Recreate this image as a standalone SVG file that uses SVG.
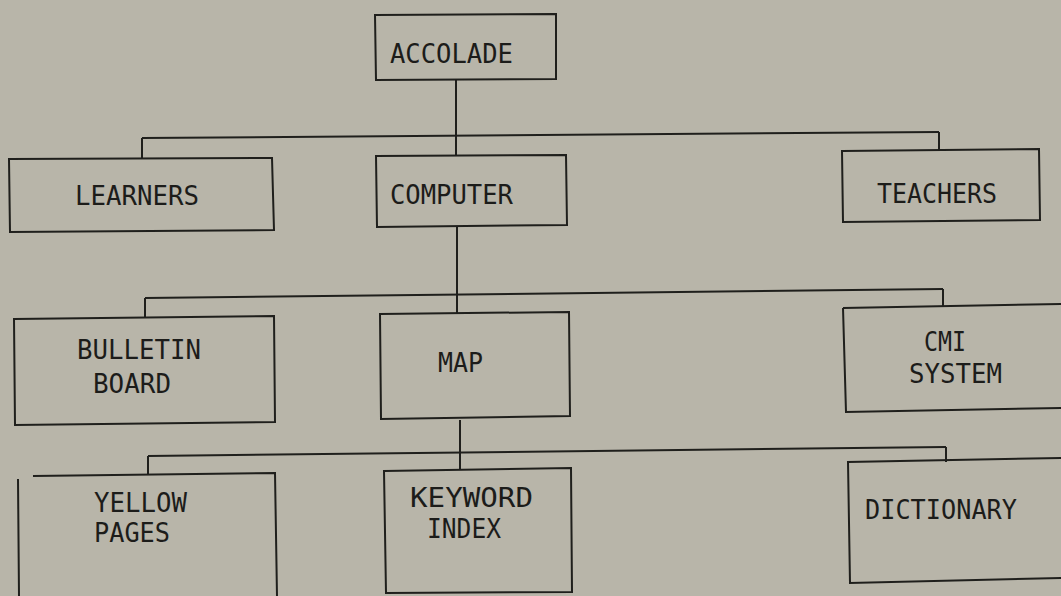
<svg xmlns="http://www.w3.org/2000/svg" width="1061" height="596" viewBox="0 0 1061 596">
  <style>
    .box { fill: none; stroke: #1f1f1c; stroke-width: 2; stroke-linejoin: miter; }
    .wire { fill: none; stroke: #1f1f1c; stroke-width: 2; }
    .label { font-family: "DejaVu Sans Mono", "Liberation Mono", monospace; font-size: 27px; fill: #1c1c1a; }
  </style>
  <rect width="1061" height="596" fill="#b8b5a9"/>

  <!-- connectors -->
  <g id="connectors">
    <!-- ACCOLADE to second tier -->
    <path class="wire" d="M456 80 V156"/>
    <path class="wire" d="M142 138 L939 132"/>
    <path class="wire" d="M142 138 V158"/>
    <path class="wire" d="M939 132 V150"/>
    <!-- COMPUTER to third tier -->
    <path class="wire" d="M457 227 V313"/>
    <path class="wire" d="M145 298 L943 289"/>
    <path class="wire" d="M145 298 V317"/>
    <path class="wire" d="M943 289 V306"/>
    <!-- MAP to fourth tier -->
    <path class="wire" d="M460 420 V470"/>
    <path class="wire" d="M148 456 L946 447"/>
    <path class="wire" d="M148 456 V475"/>
    <path class="wire" d="M946 447 V462"/>
  </g>

  <g id="accolade">
    <path class="box" d="M375 15 L556 14 L556 79 L376 80 Z"/>
    <text class="label" x="390" y="63" textLength="123" lengthAdjust="spacingAndGlyphs">ACCOLADE</text>
  </g>

  <g id="learners">
    <path class="box" d="M9 159 L272 158 L274 230 L10 232 Z"/>
    <text class="label" x="75" y="205" textLength="124" lengthAdjust="spacingAndGlyphs">LEARNERS</text>
  </g>

  <g id="computer">
    <path class="box" d="M376 156 L566 155 L567 225 L377 227 Z"/>
    <text class="label" x="390" y="204" textLength="123" lengthAdjust="spacingAndGlyphs">COMPUTER</text>
  </g>

  <g id="teachers">
    <path class="box" d="M842 151 L1039 149 L1040 220 L843 222 Z"/>
    <text class="label" x="877" y="203" textLength="120" lengthAdjust="spacingAndGlyphs">TEACHERS</text>
  </g>

  <g id="bulletin-board">
    <path class="box" d="M14 319 L274 316 L275 422 L15 425 Z"/>
    <text class="label" x="77" y="359" textLength="124" lengthAdjust="spacingAndGlyphs">BULLETIN</text>
    <text class="label" x="93" y="393" textLength="78" lengthAdjust="spacingAndGlyphs">BOARD</text>
  </g>

  <g id="map">
    <path class="box" d="M380 314 L569 312 L570 416 L381 419 Z"/>
    <text class="label" x="438" y="372" textLength="45" lengthAdjust="spacingAndGlyphs">MAP</text>
  </g>

  <g id="cmi-system">
    <path class="box" d="M843 308 L1061 304 M843 308 L846 412 L1061 408"/>
    <text class="label" x="924" y="351" textLength="42" lengthAdjust="spacingAndGlyphs">CMI</text>
    <text class="label" x="909" y="383" textLength="93" lengthAdjust="spacingAndGlyphs">SYSTEM</text>
  </g>

  <g id="yellow-pages">
    <path class="box" d="M33 476 L275 473 L277 596 M18 479 L19 596"/>
    <text class="label" x="94" y="512" textLength="93" lengthAdjust="spacingAndGlyphs">YELLOW</text>
    <text class="label" x="94" y="542" textLength="76" lengthAdjust="spacingAndGlyphs">PAGES</text>
  </g>

  <g id="keyword-index">
    <path class="box" d="M384 471 L571 468 L572 592 L386 593 Z"/>
    <text class="label" x="410" y="507" textLength="123" lengthAdjust="spacingAndGlyphs">KEYWORD</text>
    <text class="label" x="427" y="538" textLength="74" lengthAdjust="spacingAndGlyphs">INDEX</text>
  </g>

  <g id="dictionary">
    <path class="box" d="M1061 458 L848 462 L850 583 L1061 578"/>
    <text class="label" x="865" y="519" textLength="152" lengthAdjust="spacingAndGlyphs">DICTIONARY</text>
  </g>
</svg>
